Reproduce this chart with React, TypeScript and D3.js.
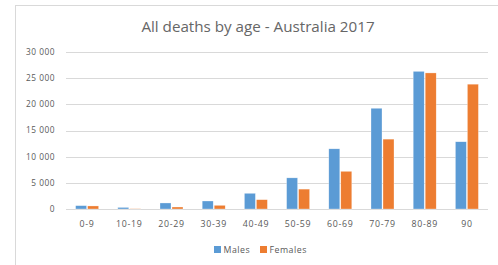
import * as React from 'react';
import * as d3 from 'd3';

const ageGroups = ['0-9', '10-19', '20-29', '30-39', '40-49', '50-59', '60-69', '70-79', '80-89', '90'];
const males = [640, 300, 1150, 1530, 3000, 5950, 11500, 19250, 26300, 12850];
const females = [580, 60, 380, 700, 1780, 3800, 7200, 13350, 26000, 23850];
const seriesNames = ['Males', 'Females'];
const yTicks = [0, 5000, 10000, 15000, 20000, 25000, 30000];

const colors = ['#5B9BD5', '#ED7D31'];
const font = '"Open Sans", "Noto Sans", sans-serif';

export default function App() {
    const width = 498;
    const height = 265;
    const margin = { top: 52, left: 66 };
    const plotRight = 488;
    const plotBottom = 209;

    const xScale = d3.scaleBand<string>()
        .domain(ageGroups)
        .range([margin.left, plotRight])
        .paddingInner(0)
        .paddingOuter(0);

    const yScale = d3.scaleLinear()
        .domain([0, 30000])
        .range([plotBottom, margin.top]);

    const fmt = (v: number) => d3.format(',')(v).replace(/,/g, ' ');

    const barW = 11;
    const gap = 1;
    const groupW = barW * 2 + gap;

    return (
        <svg width={width} height={height} style={{ position: 'absolute', left: 0, top: 0 }}>
            <rect x={0} y={0} width={width} height={height} fill="#fff" />
            <rect x={15.5} y={5.5} width={width + 10} height={height + 10} fill="none" stroke="#d9d9d9" strokeWidth={1} />

            <text x={258} y={31.5} textAnchor="middle" fontFamily={font} fontSize={15.2} fill="#666">
                All deaths by age - Australia 2017
            </text>

            {yTicks.map((t) => (
                <g key={t}>
                    <line x1={margin.left} x2={plotRight} y1={Math.round(yScale(t)) + 0.5} y2={Math.round(yScale(t)) + 0.5}
                        stroke="#d9d9d9" strokeWidth={1} />
                    <text x={55} y={yScale(t)} dy="0.35em" textAnchor="end" fontFamily={font} fontSize={8.3}
                        letterSpacing={0.5} fill="#595959">
                        {fmt(t)}
                    </text>
                </g>
            ))}

            {ageGroups.map((g, i) => {
                const cx = xScale(g)! + xScale.bandwidth() / 2;
                return (
                    <g key={g}>
                        {[males[i], females[i]].map((v, s) => (
                            <rect key={s}
                                x={cx - groupW / 2 + s * (barW + gap)}
                                y={yScale(v)}
                                width={barW}
                                height={plotBottom - yScale(v)}
                                fill={colors[s]}
                                stroke="#fff" strokeOpacity={0.6} strokeWidth={0.5} />
                        ))}
                        <text x={cx} y={224} dy="0.35em" textAnchor="middle" fontFamily={font} fontSize={8.8}
                            letterSpacing={0.7} fill="#595959">
                            {g}
                        </text>
                    </g>
                );
            })}

            {seriesNames.map((name, s) => {
                const lx = s === 0 ? 214 : 260;
                return (
                    <g key={name}>
                        <rect x={lx} y={246} width={7} height={7} fill={colors[s]} />
                        <text x={lx + 9.5} y={249.5} dy="0.35em" fontFamily={font} fontSize={8.8}
                            letterSpacing={0.5} fill="#595959">
                            {name}
                        </text>
                    </g>
                );
            })}
        </svg>
    );
}
